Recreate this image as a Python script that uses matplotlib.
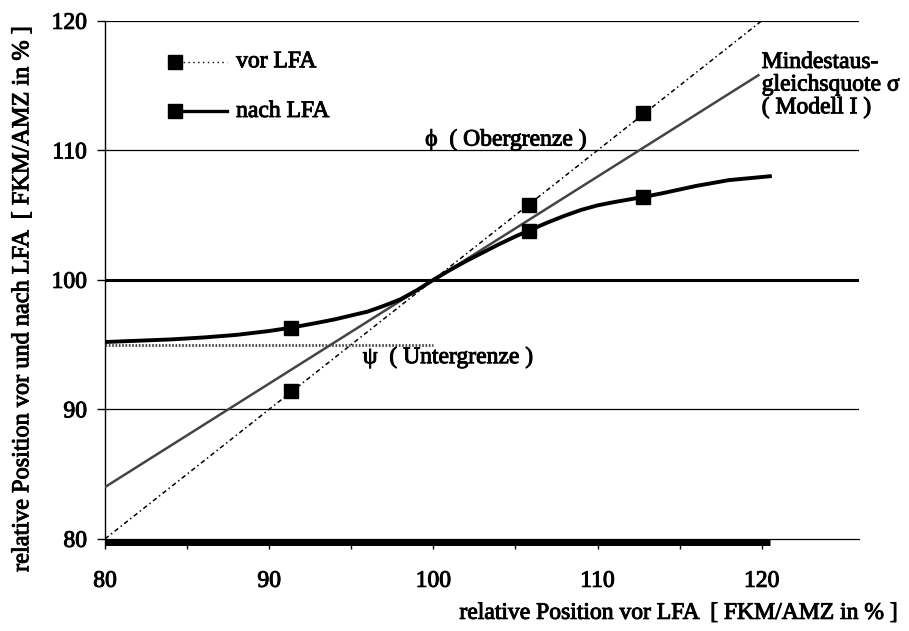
import matplotlib
matplotlib.use("Agg")
import matplotlib.pyplot as plt
import matplotlib.patheffects as pe
import numpy as np

plt.rcParams['font.family'] = ['Liberation Serif', 'DejaVu Serif']

# data
vor_x = [91.3, 105.8, 112.8]
vor_y = [91.4, 105.8, 112.9]
vor_line_x = [80, 120]
vor_line_y = [80, 120]

nach_x = [91.3, 105.8, 112.8]
nach_y = [96.3, 103.8, 106.4]
nach_curve_x = [80, 82, 84, 86, 88, 90, 91.3, 93, 94, 95, 96, 97, 98, 99, 100, 101, 102, 103,
                104, 105, 105.8, 107, 108, 109, 110, 111, 112.8, 114, 116, 118, 120.5]
nach_curve_y = [95.2, 95.3, 95.4, 95.55, 95.75, 96.05, 96.3, 96.7, 96.95, 97.25, 97.55, 98.0,
                98.5, 99.2, 100, 100.75, 101.45, 102.1, 102.75, 103.35, 103.8, 104.45, 104.95,
                105.4, 105.75, 106.0, 106.4, 106.7, 107.25, 107.7, 108.0]

sigma_x = [80, 119.8]
sigma_y = [84, 115.8]

psi_x = [80, 100]
psi_y = [95, 95]

grid_y = [90, 110, 120]
x_ticks = [80, 90, 100, 110, 120]
x_minor = [85, 95, 105, 115]
y_ticks = [80, 90, 100, 110, 120]

# scanned print look: thicken the glyphs a little
heavy = [pe.withStroke(linewidth=0.7, foreground='black')]

fig = plt.figure(figsize=(9.09, 6.31), dpi=100)
ax = fig.add_axes([0.1155, 0.146, 0.829, 0.821])
ax.set_xlim(80, 125.9)
ax.set_ylim(80, 120)

for s in ['top', 'right', 'bottom']:
    ax.spines[s].set_visible(False)
ax.spines['left'].set_linewidth(1.0)

# horizontal reference lines
for gy in grid_y:
    ax.axhline(gy, color='black', lw=0.9, zorder=1)
ax.axhline(100, color='black', lw=2.2, zorder=1)
ax.axhline(80, color='black', lw=0.9, zorder=1, clip_on=False)
ax.plot([80, 120.5], [79.73, 79.73], color='black', lw=5, solid_capstyle='butt',
        clip_on=False, zorder=2)

# lines
ax.plot(vor_line_x, vor_line_y, color='black', lw=1.1, ls=(0, (3, 2, 1, 2)), zorder=3)
ax.plot(sigma_x, sigma_y, color='#444444', lw=1.8, zorder=3)
ax.plot(psi_x, psi_y, color='#444444', lw=2.0, ls=(0, (0.6, 0.6)), zorder=3)
ax.plot(nach_curve_x, nach_curve_y, color='black', lw=2.8, zorder=4,
        solid_joinstyle='round')

ax.plot(vor_x, vor_y, 's', color='black', ms=10, zorder=5)
ax.plot(nach_x, nach_y, 's', color='black', ms=10, zorder=5)

# ticks
ax.set_xticks(x_ticks)
ax.set_xticks(x_minor, minor=True)
ax.set_yticks(y_ticks)
ax.tick_params(axis='x', which='both', direction='out', length=7, width=1.0, pad=16,
               labelsize=17)
ax.tick_params(axis='y', direction='out', length=6, width=1.0, pad=7, labelsize=17)
for lab in ax.get_xticklabels() + ax.get_yticklabels():
    lab.set_path_effects(heavy)

# annotations
ax.text(99.5, 110.8, "ϕ  ( Obergrenze )", fontsize=17, va='center', path_effects=heavy)
ax.text(95.7, 94.0, "ψ  ( Untergrenze )", fontsize=17, va='center', path_effects=heavy)
ax.text(120.0, 117.6, "Mindestaus-\ngleichsquote σ\n( Modell I )", fontsize=17,
        va='top', linespacing=1.1, path_effects=heavy)

# legend drawn by hand
tr = ax.transAxes
ax.plot([0.093], [0.921], 's', color='black', ms=9.5, transform=tr)
ax.plot([0.104, 0.162], [0.921, 0.921], color='black', lw=1.0, ls=(0, (1, 2.5)), transform=tr)
ax.text(0.174, 0.921, "vor LFA", fontsize=17, va='center', transform=tr, path_effects=heavy)
ax.plot([0.093], [0.825], 's', color='black', ms=9.5, transform=tr)
ax.plot([0.104, 0.162], [0.825, 0.825], color='black', lw=2.4, transform=tr)
ax.text(0.174, 0.825, "nach LFA", fontsize=17, va='center', transform=tr, path_effects=heavy)

fig.text(0.987, 0.028, "relative Position vor LFA  [ FKM/AMZ in % ]", fontsize=17,
         ha='right', va='center', path_effects=heavy)
fig.text(0.025, 0.526, "relative Position vor und nach LFA  [ FKM/AMZ in % ]", fontsize=17.5,
         rotation=90, ha='center', va='center', path_effects=heavy)

fig.savefig("out.png", dpi=100)
